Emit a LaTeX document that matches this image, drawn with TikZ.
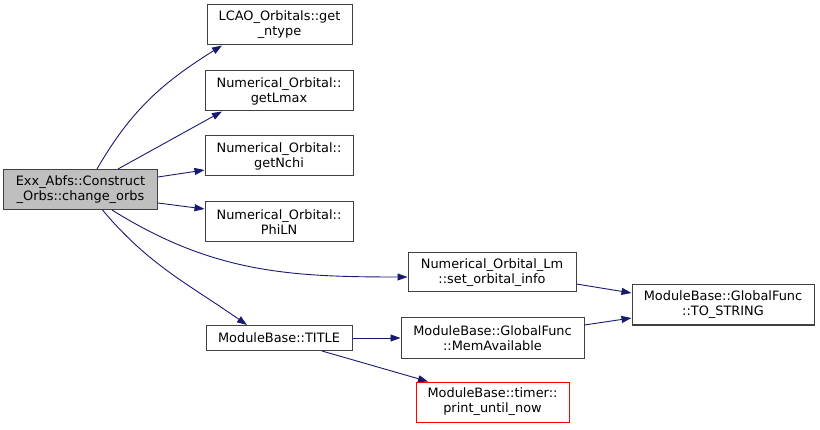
\documentclass[tikz,border=0pt]{standalone}
\usepackage{fontspec}
\setmainfont{DejaVu Sans}
\usepackage{tikz}
\usetikzlibrary{arrows.meta}
\definecolor{edgeblue}{RGB}{25,25,112}
\definecolor{boxgray}{RGB}{64,64,64}
\definecolor{rootfill}{RGB}{191,191,191}

\begin{document}
\begin{tikzpicture}[
  x=1pt, y=1pt,
  every node/.style={font=\fontsize{12.9}{15}\selectfont, align=center},
  fn/.style={draw=boxgray, line width=1pt, fill=white, minimum height=40pt, inner sep=0pt},
  rootfn/.style={fn, fill=rootfill},
  cutfn/.style={fn, draw=red},
  arr/.style={-{Triangle[length=10pt,width=7pt]}, edgeblue, line width=0.9pt}
]
\useasboundingbox (0,0) rectangle (820,429);

\node[rootfn, minimum width=154pt] (root) at (80.5,239.5) {Exx\_Abfs::Construct\\\_Orbs::change\_orbs};

\node[fn, minimum width=145pt] (lcao) at (279.5,404) {LCAO\_Orbitals::get\\\_ntype};
\node[fn, minimum width=148pt] (lmax) at (279,338) {Numerical\_Orbital::\\getLmax};
\node[fn, minimum width=148pt] (nchi) at (279,273) {Numerical\_Orbital::\\getNchi};
\node[fn, minimum width=148pt] (philn) at (279,207) {Numerical\_Orbital::\\PhiLN};
\node[fn, minimum width=146pt, minimum height=25pt] (title) at (279,91) {ModuleBase::TITLE};

\node[fn, minimum width=168pt, minimum height=39pt] (setorb) at (492,156.5) {Numerical\_Orbital\_Lm\\::set\_orbital\_info};
\node[fn, minimum width=183pt] (memavail) at (492.5,91) {ModuleBase::GlobalFunc\\::MemAvailable};
\node[cutfn, minimum width=153pt] (timer) at (492.5,27) {ModuleBase::timer::\\print\_until\_now};

\node[fn, minimum width=182pt] (tostr) at (723,124) {ModuleBase::GlobalFunc\\::TO\_STRING};

\draw[arr] ([xshift=16.5pt]root.north) to[out=60,in=212] ([xshift=-57.5pt]lcao.south);
\draw[arr] ([xshift=37.5pt]root.north) -- ([xshift=-57pt]lmax.south);
\draw[arr] ([yshift=12.5pt]root.east) -- ([yshift=-14pt]nchi.west);
\draw[arr] ([yshift=-13.5pt]root.east) -- ([yshift=13pt]philn.west);
\draw[arr] ([xshift=31.5pt]root.south) to[out=-32,in=180] ([yshift=-4.5pt]setorb.west);
\draw[arr] ([xshift=22pt]root.south) to[out=-50,in=145] ([xshift=-32pt]title.north);
\draw[arr] (title) -- (memavail);
\draw[arr] ([xshift=43pt]title.south) -- ([xshift=-64.5pt]timer.north);
\draw[arr] ([yshift=-11.5pt]setorb.east) -- ([yshift=12pt]tostr.west);
\draw[arr] ([yshift=13pt]memavail.east) -- ([yshift=-13pt]tostr.west);
\end{tikzpicture}
\end{document}
